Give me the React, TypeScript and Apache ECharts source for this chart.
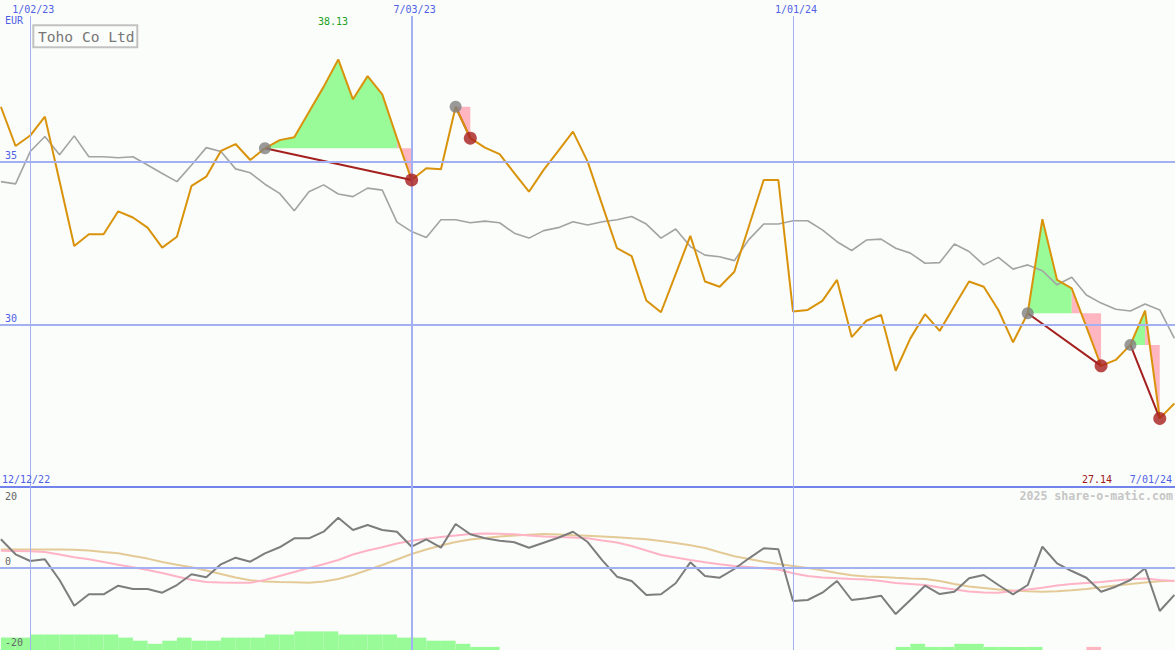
import React, { useEffect, useRef } from "react";
import * as echarts from "echarts";

// Week index 0 = 12/12/22 (weekly data, last week = 7/01/24)
const FIRST_WEEK = 1;

const price = [
  36.68, 35.48, 35.8, 36.38, 34.4, 32.42, 32.78, 32.78, 33.48, 33.29,
  32.98, 32.37, 32.7, 34.26, 34.54, 35.33, 35.54, 35.05, 35.41, 35.66,
  35.75, 36.52, 37.29, 38.13, 36.91, 37.62, 37.06, 35.72, 34.44, 34.8,
  34.77, 36.68, 35.72, 35.43, 35.23, 34.65, 34.08, 34.75, 35.33, 35.92,
  35.0, 33.67, 32.35, 32.11, 30.75, 30.39, 31.56, 32.73, 31.33, 31.17,
  31.63, 33.03, 34.44, 34.44, 30.41, 30.46, 30.74, 31.38, 29.63, 30.13,
  30.31, 28.6, 29.59, 30.33, 29.82, 30.58, 31.33, 31.17, 30.46, 29.47,
  30.36, 33.24, 31.38, 31.12, 29.94, 28.75, 28.93, 29.39, 30.44, 27.14,
  27.6,
];

const average = [
  34.39, 34.32, 35.31, 35.77, 35.21, 35.79, 35.15, 35.15, 35.12, 35.15,
  34.9, 34.64, 34.39, 34.9, 35.43, 35.31, 34.78, 34.66, 34.31, 34.03,
  33.5, 34.08, 34.29, 34.01, 33.93, 34.19, 34.13, 33.15, 32.86, 32.68,
  33.22, 33.22, 33.13, 33.18, 33.13, 32.81, 32.66, 32.89, 32.98, 33.16,
  33.06, 33.16, 33.22, 33.32, 33.09, 32.66, 32.94, 32.4, 32.14, 32.09,
  31.97, 32.62, 33.09, 33.09, 33.19, 33.19, 32.91, 32.55, 32.28, 32.6,
  32.63, 32.35, 32.2, 31.89, 31.91, 32.48, 32.25, 31.84, 32.07, 31.71,
  31.84, 31.66, 31.23, 31.46, 30.92, 30.67, 30.48, 30.43, 30.64, 30.46,
  29.59,
];

const momentum = [
  7.89, 3.72, 1.86, 2.33, -3.42, -10.56, -7.39, -7.39, -5.0, -5.92,
  -5.92, -6.94, -4.81, -1.83, -2.67, 0.94, 2.78, 1.67, 4.0, 5.67,
  8.17, 8.17, 10.0, 13.89, 10.47, 11.86, 10.47, 10.0, 5.83, 7.89,
  5.56, 12.14, 9.28, 8.17, 7.5, 7.06, 5.56, 6.94, 8.33, 10.0,
  7.14, 2.06, -2.5, -3.69, -7.58, -7.39, -4.33, 1.5, -2.31, -2.78,
  -0.36, 2.61, 5.39, 5.11, -9.25, -8.97, -6.94, -3.69, -8.97, -8.5,
  -7.78, -12.86, -8.97, -5.0, -7.31, -6.67, -2.94, -2.03, -4.81, -7.39,
  -4.81, 5.83, 1.22, -0.92, -2.78, -6.67, -5.28, -3.42, -0.17, -12.03,
  -7.58,
];

const signalFast = [
  4.72, 4.67, 4.58, 4.36, 3.67, 2.89, 2.33, 1.58, 0.81, 0.14,
  -0.64, -1.47, -2.44, -3.36, -3.97, -4.11, -4.17, -4.17, -3.42, -2.31,
  -1.19, -0.08, 0.94, 2.14, 3.67, 4.78, 5.67, 6.72, 7.5, 8.06,
  8.53, 8.94, 9.36, 9.5, 9.44, 9.28, 8.94, 8.67, 8.53, 8.39,
  8.17, 7.56, 7.0, 6.03, 4.78, 3.53, 2.83, 2.14, 1.5, 0.94,
  0.47, 0.19, -0.17, -0.5, -1.56, -2.31, -2.72, -2.94, -3.14, -3.28,
  -3.69, -4.25, -4.53, -4.81, -5.5, -6.06, -6.61, -6.89, -6.94, -6.47,
  -6.06, -5.56, -4.94, -4.53, -4.25, -3.97, -3.56, -3.19, -3.0, -3.42,
  -3.69,
];

const signalSlow = [
  5.06, 5.06, 5.06, 5.06, 5.06, 5.0, 4.78, 4.36, 4.0, 3.25,
  2.53, 1.58, 0.83, 0.14, -0.78, -1.75, -2.72, -3.5, -3.83, -3.97,
  -4.06, -4.17, -3.83, -3.14, -2.03, -0.64, 0.75, 2.28, 3.81, 5.06,
  6.17, 7.14, 7.83, 8.25, 8.67, 8.94, 9.17, 9.36, 9.22, 9.0,
  8.86, 8.67, 8.47, 8.17, 7.92, 7.42, 6.86, 6.22, 5.47, 4.28,
  3.17, 2.42, 1.67, 1.03, 0.47, -0.08, -0.72, -1.47, -2.11, -2.44,
  -2.58, -2.81, -3.0, -3.14, -3.69, -4.53, -5.22, -5.64, -6.06, -6.33,
  -6.56, -6.67, -6.53, -6.28, -5.92, -5.44, -4.94, -4.53, -4.11, -3.78,
  -3.61,
];

// weekly strength blocks (positive = green, negative = pink)
const strength = [
  4, 4, 5, 5, 5, 5, 5, 5, 4, 3,
  2, 3, 4, 3, 3, 4, 4, 4, 5, 5,
  6, 6, 6, 5, 5, 5, 5, 4, 4, 3,
  3, 2, 1, 1, 0, 0, 0, 0, 0, 0,
  0, 0, 0, 0, 0, 0, 0, 0, 0, 0,
  0, 0, 0, 0, 0, 0, 0, 0, 0, 0,
  0, 1, 2, 1, 1, 2, 2, 1, 1, 1,
  1, 0, 0, 0, -1, 0, 0, 0, 0, 0,
  0,
];

const entryWeeks = [19, 32, 71, 78];
const exitWeeks = [29, 33, 76, 80];

const dateLineWeeks = [3, 29, 55];
const dateLineLabels = ["1/02/23", "7/03/23", "1/01/24"];
const startLabel = "12/12/22";
const endLabel = "7/01/24";
const priceLevels = [35, 30];
const oscLabels = ["20", "0", "-20"];
const currency = "EUR";
const title = "Toho Co Ltd";
const credit = "2025 share-o-matic.com";

const X_MIN = 0.94;
const X_MAX = 81.04;
const BLUE = "#4f5fe6";
const GRID_BLUE = "#a3b1f3";
const FONT = "'DejaVu Sans Mono', monospace";
const GREEN_FILL = "#98fb98";
const PINK_FILL = "#ffb6c1";

const at = (arr: number[], w: number) => arr[w - FIRST_WEEK];
const pts = (arr: number[]) => arr.map((v, j) => [j + FIRST_WEEK, v]);

function buildOption(): any {
  const maxPrice = Math.max(...price);
  const minPrice = Math.min(...price);

  const topRefLines = [
    ...dateLineWeeks.map((w, n) => ({
      xAxis: w,
      lineStyle: { color: GRID_BLUE, width: dateLineLabels[n].startsWith("7/") ? 2 : 1, type: "solid" },
      label: {
        show: true,
        position: "end",
        formatter: dateLineLabels[n],
        distance: 2,
        offset: [3, 0],
        color: BLUE,
        fontSize: 10,
        fontFamily: FONT,
      },
    })),
    ...priceLevels.map((v) => ({
      yAxis: v,
      lineStyle: { color: GRID_BLUE, width: 2, type: "solid" },
      label: {
        show: true,
        position: "insideStartTop",
        formatter: String(v),
        distance: [5, 1],
        color: BLUE,
        fontSize: 10,
        fontFamily: FONT,
      },
    })),
  ];

  const bottomRefLines = [
    ...dateLineWeeks.map((w, n) => ({
      xAxis: w,
      lineStyle: { color: GRID_BLUE, width: dateLineLabels[n].startsWith("7/") ? 2 : 1, type: "solid" },
      label: { show: false },
    })),
    {
      yAxis: 0,
      lineStyle: { color: GRID_BLUE, width: 2, type: "solid" },
      label: {
        show: true,
        position: "insideStartTop",
        formatter: oscLabels[1],
        distance: [5, 1],
        color: "#666666",
        fontSize: 10,
        fontFamily: FONT,
      },
    },
  ];

  const tradeData = entryWeeks.map((w, n) => [w, at(price, w), exitWeeks[n]]);

  const txt = (x: number, y: number, text: string, fill: string, font: string, align = "left") => ({
    type: "text",
    x,
    y,
    z: 100,
    silent: true,
    style: { text, fill, font, verticalAlign: "middle", align },
  });

  return {
    animation: false,
    backgroundColor: "#fbfdfa",
    grid: [
      { left: 0, width: 1175, top: 16, height: 471 },
      { left: 0, width: 1175, top: 487, height: 163 },
    ],
    xAxis: [
      {
        type: "value",
        gridIndex: 0,
        min: X_MIN,
        max: X_MAX,
        axisLine: { show: true, onZero: false, lineStyle: { color: "#7383ee", width: 2 } },
        axisTick: { show: false },
        axisLabel: { show: false },
        splitLine: { show: false },
      },
      {
        type: "value",
        gridIndex: 1,
        min: X_MIN,
        max: X_MAX,
        axisLine: { show: false },
        axisTick: { show: false },
        axisLabel: { show: false },
        splitLine: { show: false },
      },
    ],
    yAxis: [
      { type: "value", gridIndex: 0, min: 25.04, max: 39.46, show: false, splitLine: { show: false } },
      { type: "value", gridIndex: 1, min: -22.86, max: 22.42, show: false, splitLine: { show: false } },
      { type: "value", gridIndex: 1, min: 0, max: 52.58, show: false, splitLine: { show: false } },
    ],
    series: [
      {
        type: "line",
        xAxisIndex: 0,
        yAxisIndex: 0,
        data: pts(average),
        symbol: "none",
        silent: true,
        lineStyle: { width: 0, opacity: 0 },
        z: 0,
        markLine: { symbol: ["none", "none"], silent: true, animation: false, data: topRefLines },
      },
      {
        type: "custom",
        xAxisIndex: 0,
        yAxisIndex: 0,
        silent: true,
        z: 1,
        encode: { x: 0, y: 1 },
        data: tradeData,
        renderItem: (params: any, api: any) => {
          const e = api.value(0);
          const level = api.value(1);
          const x = api.value(2);
          let k = e;
          for (let i = e; i < x; i++) if (at(price, i) >= level) k = i;
          const children: any[] = [];
          if (k > e) {
            const green: number[][] = [];
            for (let i = e; i <= k; i++) green.push(api.coord([i, at(price, i)]));
            green.push(api.coord([k, level]));
            children.push({ type: "polygon", shape: { points: green }, style: { fill: GREEN_FILL } });
          }
          const pink: number[][] = [api.coord([k, level]), api.coord([x, level])];
          for (let i = x; i >= k; i--) pink.push(api.coord([i, at(price, i)]));
          children.push({ type: "polygon", shape: { points: pink }, style: { fill: PINK_FILL } });
          return { type: "group", children };
        },
      },
      {
        type: "line",
        xAxisIndex: 0,
        yAxisIndex: 0,
        data: pts(average),
        symbol: "none",
        silent: true,
        lineStyle: { color: "#a3a3a3", width: 1.6 },
        z: 2,
      },
      {
        type: "lines",
        coordinateSystem: "cartesian2d",
        xAxisIndex: 0,
        yAxisIndex: 0,
        silent: true,
        z: 3,
        lineStyle: { color: "#a3201e", width: 2, opacity: 1 },
        data: entryWeeks.map((w, n) => ({
          coords: [
            [w, at(price, w)],
            [exitWeeks[n], at(price, exitWeeks[n])],
          ],
        })),
      },
      {
        type: "line",
        xAxisIndex: 0,
        yAxisIndex: 0,
        data: pts(price),
        symbol: "none",
        silent: true,
        lineStyle: { color: "#d9930b", width: 2 },
        z: 4,
      },
      {
        type: "scatter",
        xAxisIndex: 0,
        yAxisIndex: 0,
        data: entryWeeks.map((w) => [w, at(price, w)]),
        symbol: "circle",
        symbolSize: 12,
        silent: true,
        itemStyle: { color: "#808080" },
        z: 5,
      },
      {
        type: "scatter",
        xAxisIndex: 0,
        yAxisIndex: 0,
        data: exitWeeks.map((w) => [w, at(price, w)]),
        symbol: "circle",
        symbolSize: 13,
        silent: true,
        itemStyle: { color: "#a81e1e" },
        z: 5,
      },
      // bottom panel
      {
        type: "line",
        xAxisIndex: 1,
        yAxisIndex: 1,
        data: pts(momentum),
        symbol: "none",
        silent: true,
        lineStyle: { width: 0, opacity: 0 },
        z: 0,
        markLine: { symbol: ["none", "none"], silent: true, animation: false, data: bottomRefLines },
      },
      {
        type: "custom",
        xAxisIndex: 1,
        yAxisIndex: 2,
        silent: true,
        z: 1,
        encode: { x: 0, y: 1 },
        data: pts(strength).filter((d) => d[1] !== 0),
        renderItem: (params: any, api: any) => {
          const i = api.value(0);
          const v = api.value(1);
          const p0 = api.coord([i, Math.abs(v)]);
          const p1 = api.coord([i + 1, 0]);
          return {
            type: "rect",
            shape: { x: p0[0], y: p0[1], width: p1[0] - p0[0], height: p1[1] - p0[1] },
            style: { fill: v > 0 ? GREEN_FILL : PINK_FILL },
          };
        },
      },
      {
        type: "line",
        xAxisIndex: 1,
        yAxisIndex: 1,
        data: pts(signalSlow),
        symbol: "none",
        silent: true,
        lineStyle: { color: "#e3ca96", width: 2 },
        z: 2,
      },
      {
        type: "line",
        xAxisIndex: 1,
        yAxisIndex: 1,
        data: pts(signalFast),
        symbol: "none",
        silent: true,
        lineStyle: { color: "#ffb3c6", width: 2 },
        z: 3,
      },
      {
        type: "line",
        xAxisIndex: 1,
        yAxisIndex: 1,
        data: pts(momentum),
        symbol: "none",
        silent: true,
        lineStyle: { color: "#7d7d7d", width: 2 },
        z: 4,
      },
    ],
    graphic: [
      txt(5, 20, currency, BLUE, `10px ${FONT}`),
      {
        type: "rect",
        z: 100,
        silent: true,
        shape: { x: 33.3, y: 25.3, width: 104, height: 22 },
        style: { fill: "none", stroke: "#c2c2c2", lineWidth: 2 },
      },
      txt(38, 36.5, title, "#777777", `14.6px ${FONT}`),
      txt(318, 21, maxPrice.toFixed(2), "#22a022", `10px ${FONT}`),
      txt(1082, 479, minPrice.toFixed(2), "#a01818", `10px ${FONT}`),
      txt(2, 479, startLabel, BLUE, `10px ${FONT}`),
      txt(1172, 479, endLabel, BLUE, `10px ${FONT}`, "right"),
      txt(1173, 496, credit, "#c6c6c6", `bold 11.6px ${FONT}`, "right"),
      txt(5, 496, oscLabels[0], "#666666", `10px ${FONT}`),
      txt(5, 642, oscLabels[2], "#666666", `10px ${FONT}`),
    ],
  };
}

export default function App() {
  const ref = useRef<HTMLDivElement>(null);
  useEffect(() => {
    document.body.style.margin = "0";
    const chart = echarts.init(ref.current as HTMLDivElement, null, { renderer: "svg" });
    chart.setOption(buildOption());
    return () => chart.dispose();
  }, []);
  return (
    <div
      ref={ref}
      style={{ position: "absolute", left: 0, top: 0, width: 1175, height: 650 }}
    />
  );
}
